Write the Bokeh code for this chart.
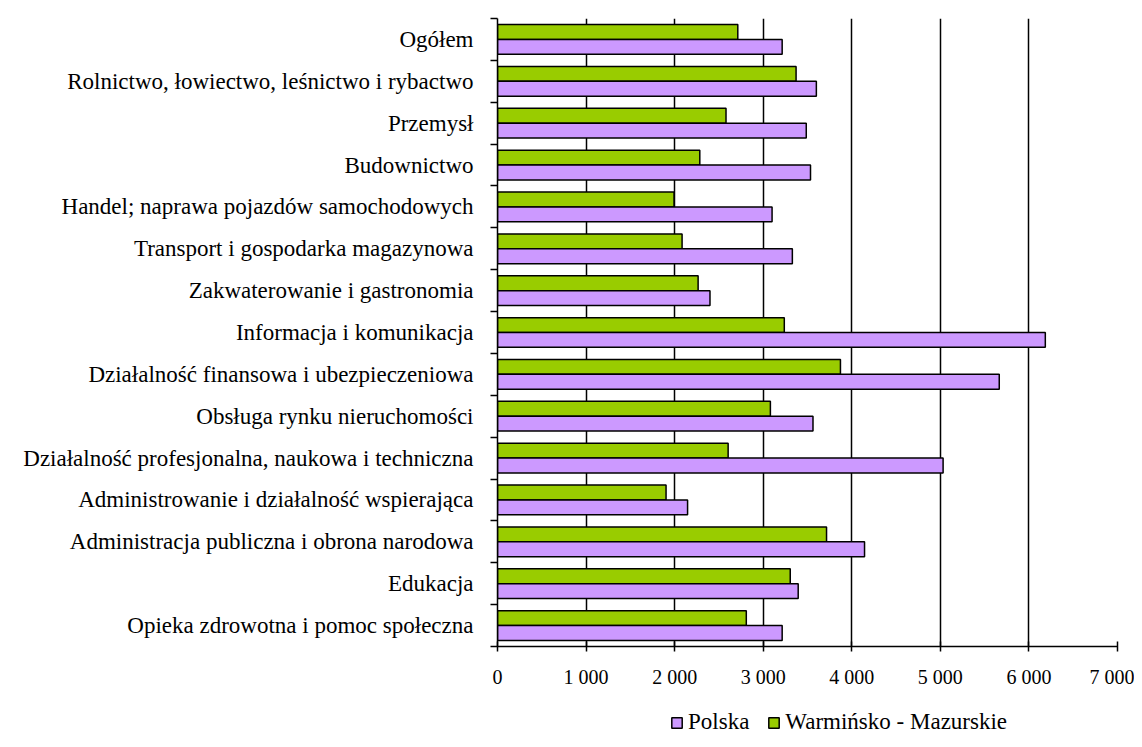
from bokeh.plotting import figure
from bokeh.layouts import column
from bokeh.models import (ColumnDataSource, Range1d, FixedTicker, Legend, LegendItem)
from bokeh.transform import dodge
from bokeh.embed import file_html
from bokeh.resources import INLINE

categories = [
    "Ogółem",
    "Rolnictwo, łowiectwo, leśnictwo i rybactwo",
    "Przemysł",
    "Budownictwo",
    "Handel; naprawa pojazdów samochodowych",
    "Transport i gospodarka magazynowa",
    "Zakwaterowanie i gastronomia",
    "Informacja i komunikacja",
    "Działalność finansowa i ubezpieczeniowa",
    "Obsługa rynku nieruchomości",
    "Działalność profesjonalna, naukowa i techniczna",
    "Administrowanie i działalność wspierająca",
    "Administracja publiczna i obrona narodowa",
    "Edukacja",
    "Opieka zdrowotna i pomoc społeczna",
]
polska = [3214, 3600, 3486, 3534, 3100, 3329, 2399, 6185, 5665, 3562, 5031, 2146, 4144, 3395, 3214]
warminsko = [2713, 3371, 2580, 2284, 1993, 2084, 2265, 3238, 3872, 3081, 2604, 1903, 3715, 3305, 2809]
x_ticks = [0, 1000, 2000, 3000, 4000, 5000, 6000, 7000]
x_tick_labels = ["0", "1 000", "2 000", "3 000", "4 000", "5 000", "6 000", "7 000"]
series_names = ["Polska", "Warmińsko - Mazurskie"]

FONT = "Liberation Serif"
PURPLE = "#CC99FF"
GREEN = "#99CC00"

n = len(categories)
pos = list(range(n))
src = ColumnDataSource(dict(pos=pos, cat=categories, polska=polska, warm=warminsko))

p = figure(width=1134, height=700, output_backend="svg", toolbar_location=None,
           x_range=Range1d(0, 7000), y_range=Range1d(n - 0.5, -0.5),
           min_border_left=497, min_border_right=17, min_border_top=18, min_border_bottom=54)
p.outline_line_color = None
p.background_fill_color = "white"
p.border_fill_color = "white"

bh = 0.355
r_w = p.hbar(y=dodge("pos", -bh / 2, range=p.y_range), left=0, right="warm", height=bh,
             source=src, fill_color=GREEN, line_color="black", line_width=1.5)
r_p = p.hbar(y=dodge("pos", bh / 2, range=p.y_range), left=0, right="polska", height=bh,
             source=src, fill_color=PURPLE, line_color="black", line_width=1.5)

# x axis
p.xaxis.ticker = FixedTicker(ticks=x_ticks)
p.xaxis.major_label_overrides = {t: l for t, l in zip(x_ticks, x_tick_labels)}
p.xaxis.major_tick_in = 5
p.xaxis.major_tick_out = 5
p.xaxis.minor_tick_line_color = None
p.xaxis.axis_line_width = 1.5
p.xaxis.major_tick_line_width = 1.5
p.xaxis.axis_line_color = "black"
p.xaxis.major_label_text_font = FONT
p.xaxis.major_label_text_font_size = "20px"
p.xaxis.major_label_text_color = "black"
p.xaxis.major_label_standoff = 14

# y axis
p.yaxis.ticker = FixedTicker(ticks=pos, minor_ticks=[i - 0.5 for i in range(n + 1)])
p.yaxis.major_label_overrides = {i: c for i, c in zip(pos, categories)}
p.yaxis.major_tick_line_color = None
p.yaxis.major_tick_in = 0
p.yaxis.major_tick_out = 0
p.yaxis.minor_tick_in = 0
p.yaxis.minor_tick_out = 7
p.yaxis.minor_tick_line_width = 1.5
p.yaxis.minor_tick_line_color = "black"
p.yaxis.axis_line_width = 1.5
p.yaxis.axis_line_color = "black"
p.yaxis.major_label_text_font = FONT
p.yaxis.major_label_text_font_size = "23px"
p.yaxis.major_label_text_color = "black"
p.yaxis.major_label_standoff = 17

# grid
p.ygrid.grid_line_color = None
p.xgrid.ticker = FixedTicker(ticks=x_ticks[1:])
p.xgrid.grid_line_color = "black"
p.xgrid.grid_line_width = 1.5
p.xgrid.grid_line_alpha = 1.0

# legend strip below the chart (frame is aligned with the chart's frame by the column)
lg = figure(width=1134, height=45, output_backend="svg", toolbar_location=None,
            x_range=Range1d(0, 1), y_range=Range1d(0, 1), x_axis_type=None, y_axis_type=None,
            min_border_left=497, min_border_right=17, min_border_top=0, min_border_bottom=0)
lg.outline_line_color = None
lg.xgrid.visible = False
lg.ygrid.visible = False
nan = float("nan")
dummy = ColumnDataSource(dict(y=[nan], right=[nan]))
d_p = lg.hbar(y="y", right="right", height=0.1, source=dummy,
              fill_color=PURPLE, line_color="black", line_width=1.5)
d_w = lg.hbar(y="y", right="right", height=0.1, source=dummy,
              fill_color=GREEN, line_color="black", line_width=1.5)
legend = Legend(items=[LegendItem(label=series_names[0], renderers=[d_p]),
                       LegendItem(label=series_names[1], renderers=[d_w])],
                orientation="horizontal", location=(173, 10),
                label_text_font=FONT, label_text_font_size="23px", label_text_color="black",
                glyph_width=13, glyph_height=13, label_standoff=5, spacing=18,
                padding=0, margin=0, border_line_color=None, background_fill_alpha=0)
lg.add_layout(legend, "center")

open("out.html", "w").write(file_html(column(p, lg, spacing=0), INLINE))
